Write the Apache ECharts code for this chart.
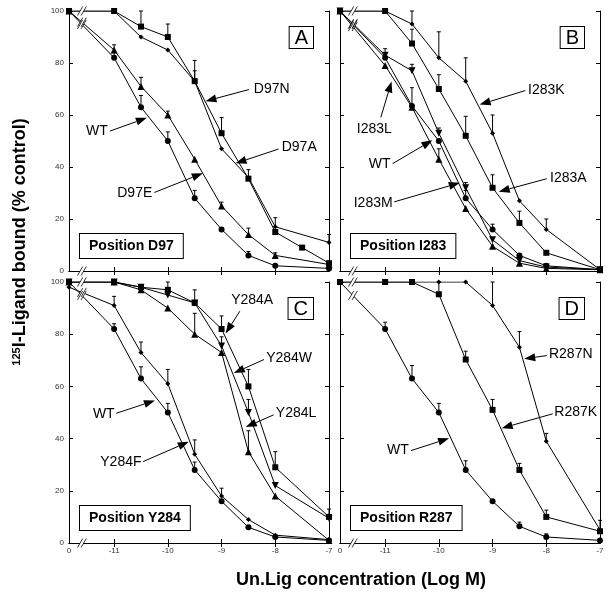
<!DOCTYPE html>
<html><head><meta charset="utf-8">
<script src="https://cdn.jsdelivr.net/npm/echarts@6/dist/echarts.min.js"></script>
<style>html,body{margin:0;padding:0;background:#fff}#c{width:612px;height:593px}</style>
</head><body><div id="c"></div>
<script>
// concentration categories (log M); '0' = no unlabelled ligand
const concLabels = ['0','-11','-10.5','-10','-9.5','-9','-8.5','-8','-7.5','-7'];
const xTickLabels = ['0','-11','-10','-9','-8','-7'];
const yTickLabels = [0,20,40,60,80,100];

// Panel A – Position D97
const wtA     = [100, 82, 63, 50, 28, 16, 6, 2, null, 1];
const wtAErr  = [null, 84, 67.5, 53.5, 31, null, 7.5, null, null, null];
const d97E    = [100, 85, 71, 60, 43, 25, 14, 6, null, 2.5];
const d97EErr = [null, 87, 74.5, 61.5, null, 26.5, 16.5, 7, null, null];
const d97N    = [100, 100, 94, 90, 73, 53, 35.5, 15, 9, 3];
const d97NErr = [null, null, 100, 95, 81, 59, 39, null, null, null];
const d97A    = [100, 100, 90, 85, 73, 47, 36, 17, null, 11];
const d97AErr = [null, null, null, null, 77, null, null, 20.5, null, 14];

// Panel B – Position I283
const wtB      = [100, 82, 63.5, 50, 28, 16, 6, 2, null, 0.5];
const wtBErr   = [null, 85.5, 70.5, null, 31, 18, null, null, null, null];
const i283L    = [100, 83, 77, 53, 32, 12, 4, 1.5, null, 0.5];
const i283LErr = [null, null, 79.5, 55, 34, null, null, null, null, null];
const i283M    = [100, 79, 63, 43, 24, 9.5, 3, 1, null, 0.5];
const i283MErr = [null, null, null, 47, null, null, null, null, null, null];
const i283A    = [100, 100, 87.5, 70, 52, 32, 18.5, 7, null, 0.5];
const i283AErr = [null, null, 93, 75.5, 59.5, 37, 23, null, null, null];
const i283K    = [100, 100, 95, 82, 73, 53, 27, 16, null, 0.5];
const i283KErr = [null, null, 100, 92, 82, 60, null, 20, null, null];

// Panel C – Position Y284
const wtC      = [100, 82, 63, 50, 28, 16, 6, 2.3, null, 1];
const wtCErr   = [null, 84, 67.5, 53.5, 31, null, null, null, null, null];
const y284F    = [98, 91, 73, 61, 34, 18, 9, 3, null, 1.3];
const y284FErr = [null, 94.5, 77, 66.5, 39.5, 21, null, null, null, null];
const y284A    = [100, 100, 98, 97, 92, 82, 60, 29, null, 10];
const y284AErr = [null, null, null, 100, 97, 87, 66.5, 35, null, 13];
const y284W    = [100, 100, 98, 95, 92, 75.5, 50, 22, null, 9.5];
const y284WErr = [null, null, null, null, null, 79, 55, null, null, null];
const y284L    = [100, 100, 97, 90, 80, 73, 35, 18, null, 1];
const y284LErr = [null, null, null, null, 88, null, 43, null, null, null];

// Panel D – Position R287
const wtD      = [100, 82, 63, 50, 28, 16, 6.4, 2.3, null, 1];
const wtDErr   = [null, 84.6, 68, 53.5, 31.5, null, 8, 3.5, null, null];
const r287K    = [100, 100, 100, 95.3, 70.3, 51, 28, 10, null, 4.5];
const r287KErr = [null, null, null, 100, 73.5, 55, 30.5, 12.6, null, 8.7];
const r287N    = [100, 100, 100, 100, 100, 91, 75, 39, null, 5];
const r287NErr = [null, null, null, null, null, 100, 81, 42, null, null];

const panelLetters = ['A','B','C','D'];
const panelTitles = ['Position D97','Position I283','Position Y284','Position R287'];

const seriesDefs = [
  {g:0, name:'WT', vals:wtA, errs:wtAErr, sym:'circle'},
  {g:0, name:'D97E', vals:d97E, errs:d97EErr, sym:'triangle'},
  {g:0, name:'D97N', vals:d97N, errs:d97NErr, sym:'rect'},
  {g:0, name:'D97A', vals:d97A, errs:d97AErr, sym:'diamond'},
  {g:1, name:'WT', vals:wtB, errs:wtBErr, sym:'circle'},
  {g:1, name:'I283L', vals:i283L, errs:i283LErr, sym:'down'},
  {g:1, name:'I283M', vals:i283M, errs:i283MErr, sym:'triangle'},
  {g:1, name:'I283A', vals:i283A, errs:i283AErr, sym:'rect'},
  {g:1, name:'I283K', vals:i283K, errs:i283KErr, sym:'diamond'},
  {g:2, name:'WT', vals:wtC, errs:wtCErr, sym:'circle'},
  {g:2, name:'Y284F', vals:y284F, errs:y284FErr, sym:'diamond'},
  {g:2, name:'Y284A', vals:y284A, errs:y284AErr, sym:'rect'},
  {g:2, name:'Y284W', vals:y284W, errs:y284WErr, sym:'down'},
  {g:2, name:'Y284L', vals:y284L, errs:y284LErr, sym:'triangle'},
  {g:3, name:'WT', vals:wtD, errs:wtDErr, sym:'circle'},
  {g:3, name:'R287K', vals:r287K, errs:r287KErr, sym:'rect'},
  {g:3, name:'R287N', vals:r287N, errs:r287NErr, sym:'diamond'}
];

// annotation arrows: text anchor and arrow from/to in data coordinates
const annotations = [
  {g:0, text:'D97N', t:[-8.40,70], align:'left', from:[-8.49,69.8], to:[-9.30,65.3]},
  {g:0, text:'D97A', t:[-7.88,47.6], align:'left', from:[-7.94,46.9], to:[-8.74,41.4]},
  {g:0, text:'WT', t:[-11.12,53.8], align:'right', from:[-11.08,53.8], to:[-10.39,58.9]},
  {g:0, text:'D97E', t:[-10.29,29.9], align:'right', from:[-10.25,30.2], to:[-9.35,37.6]},
  {g:1, text:'I283K', t:[-8.34,69.7], align:'left', from:[-8.39,69.4], to:[-9.24,64]},
  {g:1, text:'I283L', t:[-11.2,54.6], align:'center', from:[-11.08,59.1], to:[-10.88,72.9]},
  {g:1, text:'WT', t:[-10.9,41], align:'right', from:[-10.86,41.3], to:[-10.12,50.3]},
  {g:1, text:'I283A', t:[-7.93,35.9], align:'left', from:[-7.99,35.5], to:[-8.885,30.5]},
  {g:1, text:'I283M', t:[-10.86,26.2], align:'right', from:[-10.83,26.6], to:[-9.61,33.9]},
  {g:2, text:'Y284A', t:[-8.43,93.1], align:'center', from:[-8.66,88.8], to:[-8.925,80.3]},
  {g:2, text:'Y284W', t:[-8.17,70.9], align:'left', from:[-8.21,70.3], to:[-8.77,65.1]},
  {g:2, text:'Y284L', t:[-7.99,49.7], align:'left', from:[-8.03,49.1], to:[-8.55,44.4]},
  {g:2, text:'WT', t:[-10.99,49.5], align:'right', from:[-10.96,49.7], to:[-10.24,54.6]},
  {g:2, text:'Y284F', t:[-10.49,30.8], align:'right', from:[-10.46,31.2], to:[-9.61,38.8]},
  {g:3, text:'R287N', t:[-7.95,72.2], align:'left', from:[-7.99,71.8], to:[-8.41,70.6]},
  {g:3, text:'R287K', t:[-7.85,50], align:'left', from:[-7.88,49.5], to:[-8.83,44]},
  {g:3, text:'WT', t:[-10.56,35.6], align:'right', from:[-10.52,35.4], to:[-9.81,40.1]}
];

const ZERO_POS = -11.84;   // axis position used for the "0" concentration (axis break)
const BREAK_POS = -11.6;
const FONT = '"Liberation Sans", Arial, Helvetica, sans-serif';
function pos(lbl){ return lbl === '0' ? ZERO_POS : parseFloat(lbl); }

const grids = [
  {left:69, top:11, width:260, height:260},
  {left:340, top:11, width:260, height:260},
  {left:69, top:282, width:260, height:261},
  {left:340, top:282, width:260, height:261}
];

const xTickVals = xTickLabels.map(pos);
const xAxes = [], yAxes = [];
grids.forEach((gr, g) => {
  const showX = g >= 2, showY = g % 2 === 0;
  const lineSt = {show:true, lineStyle:{color:'#000', width:1}};
  xAxes.push({
    type:'value', gridIndex:g, position:'bottom', min:ZERO_POS, max:-7,
    axisLine:lineSt,
    axisTick:{show:true, inside:true, length:4, lineStyle:{color:'#000'}, customValues:xTickVals.slice(1,5)},
    axisLabel:{show:showX, customValues:xTickVals, margin:4, fontSize:8, color:'#333', fontFamily:FONT,
      showMinLabel:true, showMaxLabel:true,
      formatter:v => { const i = xTickVals.findIndex(t => Math.abs(t - v) < 1e-6); return i >= 0 ? xTickLabels[i] : ''; }},
    splitLine:{show:false}
  });
  xAxes.push({
    type:'value', gridIndex:g, position:'top', min:ZERO_POS, max:-7,
    axisLine:lineSt,
    axisTick:{show:true, inside:true, length:4, lineStyle:{color:'#000'}, customValues:xTickVals.slice(1,5)},
    axisLabel:{show:false}, splitLine:{show:false}
  });
  yAxes.push({
    type:'value', gridIndex:g, position:'left', min:0, max:100, interval:20,
    axisLine:lineSt,
    axisTick:{show:true, inside:true, length:4, lineStyle:{color:'#000'}},
    axisLabel:{show:showY, margin:5, fontSize:8, color:'#333', fontFamily:FONT, showMinLabel:true, showMaxLabel:true},
    splitLine:{show:false}
  });
  yAxes.push({
    type:'value', gridIndex:g, position:'right', min:0, max:100, interval:20,
    axisLine:lineSt,
    axisTick:{show:true, inside:true, length:4, lineStyle:{color:'#000'}},
    axisLabel:{show:false}, splitLine:{show:false}
  });
});

const symMap = {
  circle:{symbol:'circle', size:6, rot:0},
  rect:{symbol:'rect', size:6, rot:0},
  triangle:{symbol:'triangle', size:7, rot:0},
  down:{symbol:'triangle', size:7, rot:180},
  diamond:{symbol:'diamond', size:5, rot:0}
};

const series = [];
seriesDefs.forEach(s => {
  const data = [], errData = [];
  s.vals.forEach((v, i) => {
    if (v === null) return;
    data.push([pos(concLabels[i]), v]);
    if (s.errs[i] !== null) errData.push([pos(concLabels[i]), v, s.errs[i]]);
  });
  series.push({
    type:'custom', xAxisIndex:2*s.g, yAxisIndex:2*s.g, data:errData, silent:true, z:2,
    encode:{x:0, y:[1,2]},
    renderItem:(params, api) => {
      const p0 = api.coord([api.value(0), api.value(1)]);
      const p1 = api.coord([api.value(0), api.value(2)]);
      return {type:'group', children:[
        {type:'line', shape:{x1:p0[0], y1:p0[1], x2:p1[0], y2:p1[1]}, style:{stroke:'#000', lineWidth:1}},
        {type:'line', shape:{x1:p1[0]-2, y1:p1[1], x2:p1[0]+2, y2:p1[1]}, style:{stroke:'#000', lineWidth:1}}
      ]};
    }
  });
  const sm = symMap[s.sym];
  series.push({
    type:'line', name:s.name, xAxisIndex:2*s.g, yAxisIndex:2*s.g, data:data, z:3,
    symbol:sm.symbol, symbolSize:sm.size, symbolRotate:sm.rot, showAllSymbol:true,
    lineStyle:{color:'#000', width:1}, itemStyle:{color:'#000'}, silent:true
  });
});

const chart = echarts.init(document.getElementById('c'), null, {renderer:'canvas'});
chart.setOption({
  animation:false, backgroundColor:'#fff',
  grid:grids.map(gr => Object.assign({containLabel:false}, gr)),
  xAxis:xAxes, yAxis:yAxes, series:series
});

// decorations (computed from axes)
const graphics = [];
function px(g, p){ return chart.convertToPixel({gridIndex:g}, p); }
function breakMark(cx, cy){
  const h = 4.5, d = 1.8, s = 2.6;
  graphics.push({type:'polygon', z:50, shape:{points:[[cx-d-s,cy+h],[cx-d+s,cy-h],[cx+d+s,cy-h],[cx+d-s,cy+h]]}, style:{fill:'#fff'}});
  graphics.push({type:'line', z:51, shape:{x1:cx-d-s, y1:cy+h, x2:cx-d+s, y2:cy-h}, style:{stroke:'#000', lineWidth:0.8}});
  graphics.push({type:'line', z:51, shape:{x1:cx+d-s, y1:cy+h, x2:cx+d+s, y2:cy-h}, style:{stroke:'#000', lineWidth:0.8}});
}
const tFrac = (BREAK_POS - ZERO_POS) / (-11 - ZERO_POS);
grids.forEach((gr, g) => {
  const b = px(g, [BREAK_POS, 0]); breakMark(b[0], b[1]);
  const t = px(g, [BREAK_POS, 100]); breakMark(t[0], t[1]);
  const seen = {};
  seriesDefs.filter(s => s.g === g).forEach(s => {
    const key = s.vals[0] + '_' + s.vals[1];
    if (seen[key]) return; seen[key] = 1;
    if (s.vals[0] === 100 && s.vals[1] === 100) return; // covered by top axis mark
    const p0 = px(g, [ZERO_POS, s.vals[0]]), p1 = px(g, [-11, s.vals[1]]);
    breakMark(p0[0] + (p1[0]-p0[0])*tFrac, p0[1] + (p1[1]-p0[1])*tFrac);
  });
  // panel letter box
  graphics.push({type:'text', z:60, x:gr.left + gr.width - 16, y:gr.top + 16,
    style:{text:panelLetters[g], font:'20px ' + FONT, fill:'#000', align:'right', verticalAlign:'top',
      padding:[1,5,0,5], borderColor:'#000', borderWidth:1, backgroundColor:'#fff'}});
  // position box
  graphics.push({type:'text', z:60, x:gr.left + 11, y:gr.top + gr.height - 13,
    style:{text:panelTitles[g], font:'bold 14px ' + FONT, fill:'#000', align:'left', verticalAlign:'bottom',
      padding:[5,9,5,9], borderColor:'#000', borderWidth:1, backgroundColor:'#fff'}});
});
annotations.forEach(a => {
  const tp = px(a.g, a.t), f = px(a.g, a.from), e = px(a.g, a.to);
  graphics.push({type:'text', z:60, x:tp[0], y:tp[1],
    style:{text:a.text, font:'14px ' + FONT, fill:'#000', align:a.align, verticalAlign:'middle'}});
  const dx = e[0]-f[0], dy = e[1]-f[1], L = Math.hypot(dx, dy), ux = dx/L, uy = dy/L;
  const hl = 11, hw = 4;
  const bx = e[0]-ux*hl, by = e[1]-uy*hl;
  graphics.push({type:'line', z:55, shape:{x1:f[0], y1:f[1], x2:bx, y2:by}, style:{stroke:'#000', lineWidth:1}});
  graphics.push({type:'polygon', z:56, shape:{points:[[e[0],e[1]],[bx-uy*hw, by+ux*hw],[bx+uy*hw, by-ux*hw]]}, style:{fill:'#000'}});
});
// axis titles
graphics.push({type:'text', z:60, x:20, y:242, rotation:Math.PI/2,
  style:{text:'{sup|125}{m|I-Ligand bound (% control)}', align:'center', verticalAlign:'middle',
    rich:{sup:{font:'bold 11px ' + FONT, fill:'#000', verticalAlign:'top'}, m:{font:'bold 18px ' + FONT, fill:'#000'}}}});
graphics.push({type:'text', z:60, x:361, y:580,
  style:{text:'Un.Lig concentration (Log M)', font:'bold 18px ' + FONT, fill:'#000', align:'center', verticalAlign:'middle'}});
chart.setOption({graphic:{elements:graphics}});
</script></body></html>
